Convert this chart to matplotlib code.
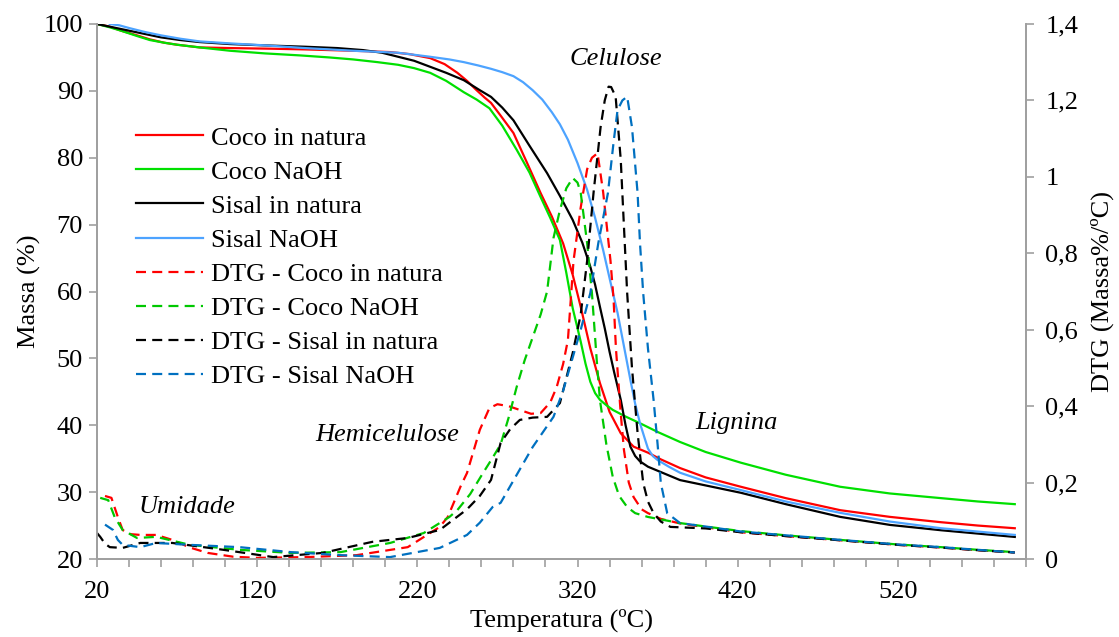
import numpy as np
import matplotlib
matplotlib.use("Agg")
import matplotlib.pyplot as plt
from matplotlib.ticker import FixedLocator, MultipleLocator, FuncFormatter

plt.rcParams['font.family'] = ['Liberation Serif', 'DejaVu Serif']
plt.rcParams['font.size'] = 19

# TG curves (massa %)
t_coco = [20, 28, 35, 45, 53, 62, 70, 84, 103, 130, 150, 180, 203, 215, 228, 237, 245, 251, 257, 262,
          266, 272, 280, 288, 297, 304, 311, 317, 322, 328, 334, 340, 347, 355, 364, 372, 384, 400, 422,
          450, 484, 515, 547, 570, 593]
m_coco = [100, 99.6, 99.0, 98.3, 97.7, 97.2, 96.9, 96.5, 96.4, 96.3, 96.2, 96.0, 95.8, 95.5, 94.9, 94.0,
          92.7, 91.5, 90.1, 89.0, 88.2, 86.3, 83.7, 79.5, 74.7, 71.2, 67.2, 62.5, 57.7, 51.5, 46.3, 42.0,
          38.8, 36.8, 35.9, 34.9, 33.6, 32.2, 30.8, 29.1, 27.3, 26.3, 25.5, 25.0, 24.6]

t_coco_naoh = [20, 28, 35, 45, 53, 62, 70, 84, 103, 125, 147, 165, 180, 195, 208, 218, 228, 238, 249,
               257, 265, 273, 282, 290, 297, 303, 309, 313, 317, 322, 325, 328, 331, 334, 338, 342, 350,
               359, 370, 384, 400, 422, 450, 484, 515, 547, 570, 593]
m_coco_naoh = [100, 99.5, 99.0, 98.2, 97.6, 97.2, 96.9, 96.5, 96.0, 95.6, 95.3, 95.0, 94.7, 94.3, 93.9,
               93.4, 92.7, 91.5, 89.8, 88.7, 87.4, 84.8, 81.2, 77.8, 74.1, 71.0, 67.7, 62.8, 57.5, 52.5,
               49.2, 46.5, 44.8, 43.8, 43.0, 42.3, 41.3, 40.3, 39.0, 37.5, 36.0, 34.4, 32.6, 30.8, 29.8,
               29.1, 28.6, 28.2]

t_sisal = [20, 30, 40, 50, 60, 72, 84, 103, 125, 150, 170, 186, 198, 208, 218, 228, 238, 249, 259, 266,
           273, 280, 290, 301, 309, 317, 323, 328, 331, 334, 337, 340, 343, 347, 350, 353, 356, 359, 364,
           370, 384, 400, 422, 450, 484, 515, 547, 570, 593]
m_sisal = [100, 99.5, 99.0, 98.5, 98.0, 97.6, 97.3, 97.0, 96.8, 96.6, 96.4, 96.1, 95.7, 95.1, 94.5, 93.6,
           92.7, 91.6, 90.1, 89.1, 87.5, 85.6, 81.8, 77.7, 74.3, 70.7, 67.3, 63.7, 61.0, 57.7, 54.5, 51.0,
           47.8, 43.8, 40.0, 36.8, 35.4, 34.6, 33.8, 33.2, 31.8, 31.0, 29.9, 28.2, 26.3, 25.1, 24.3, 23.8,
           23.3]

t_sisal_naoh = [28, 34, 40, 50, 60, 72, 84, 103, 125, 150, 180, 208, 228, 240, 249, 258, 266, 273, 280,
                286, 292, 298, 304, 309, 314, 320, 326, 331, 336, 340, 345, 349, 353, 356, 359, 362, 364,
                367, 370, 377, 384, 400, 422, 450, 484, 515, 547, 570, 593]
m_sisal_naoh = [100, 99.8, 99.4, 98.8, 98.3, 97.8, 97.4, 97.1, 96.8, 96.4, 96.0, 95.7, 95.1, 94.7, 94.3,
                93.8, 93.3, 92.8, 92.2, 91.3, 90.1, 88.7, 86.8, 85.0, 82.7, 79.2, 75.2, 71.0, 66.2, 62.0,
                56.8, 51.8, 46.8, 43.2, 40.3, 38.0, 36.5, 35.4, 34.8, 33.8, 32.9, 31.6, 30.3, 28.6, 26.9,
                25.6, 24.6, 24.1, 23.6]

# DTG curves (massa %/ºC)
td_coco = [25, 29, 33, 36, 41, 47, 57, 67, 78, 89, 105, 120, 151, 182, 214, 234, 239, 247, 251, 259,
           265, 270, 277, 284, 291, 297, 303, 307, 311, 314, 317.5, 322, 326, 329, 332.5, 336, 340.6, 342.5,
           344, 347, 349, 352, 355, 360, 364, 372, 384, 400, 422, 450, 484, 520, 547, 570, 593]
d_coco = [0.165, 0.16, 0.11, 0.076, 0.065, 0.063, 0.063, 0.05, 0.03, 0.016, 0.006, 0.003, 0.005, 0.01,
          0.031, 0.084, 0.11, 0.19, 0.225, 0.338, 0.395, 0.405, 0.40, 0.39, 0.38, 0.382, 0.41, 0.45, 0.51,
          0.573, 0.78, 0.92, 1.02, 1.05, 1.062, 0.96, 0.78, 0.68, 0.55, 0.38, 0.285, 0.2, 0.162, 0.13,
          0.12, 0.105, 0.093, 0.083, 0.07, 0.06, 0.049, 0.037, 0.03, 0.023, 0.017]

td_coco_naoh = [22, 27, 31, 36, 45, 57, 65, 78, 109, 141, 172, 203, 224, 240, 245, 253, 261, 267, 272,
                277, 282, 287, 292, 297, 301, 305, 309, 313, 317, 320, 322, 326, 329, 332, 334, 338, 342,
                346, 351, 356, 364, 384, 400, 422, 450, 484, 520, 547, 570, 593]
d_coco_naoh = [0.16, 0.154, 0.11, 0.076, 0.055, 0.058, 0.05, 0.037, 0.024, 0.016, 0.018, 0.042, 0.068,
               0.11, 0.128, 0.17, 0.225, 0.265, 0.30, 0.37, 0.45, 0.52, 0.58, 0.64, 0.70, 0.84, 0.913,
               0.97, 0.997, 0.985, 0.958, 0.827, 0.696, 0.52, 0.416, 0.3, 0.215, 0.165, 0.136, 0.12, 0.11,
               0.094, 0.085, 0.073, 0.062, 0.05, 0.038, 0.031, 0.024, 0.018]

td_sisal = [20, 22, 25, 28, 36, 47, 67, 99, 130, 161, 192, 214, 234, 251, 259, 266, 272, 278, 284, 292,
            301, 309, 317, 322, 326, 330, 334.4, 337, 339.4, 341, 343.8, 347, 349, 351, 354, 357.5, 361,
            364, 367.5, 372, 378, 400, 422, 450, 484, 520, 547, 570, 593]
d_sisal = [0.068, 0.058, 0.04, 0.031, 0.029, 0.042, 0.042, 0.024, 0.005, 0.016, 0.045, 0.055, 0.076,
           0.13, 0.165, 0.207, 0.304, 0.34, 0.364, 0.37, 0.372, 0.408, 0.539, 0.64, 0.78, 0.958, 1.13,
           1.2, 1.236, 1.235, 1.21, 1.044, 0.869, 0.696, 0.5, 0.33, 0.199, 0.15, 0.12, 0.098, 0.084, 0.08,
           0.07, 0.06, 0.049, 0.037, 0.03, 0.023, 0.017]

td_sisal_naoh = [25, 30, 33, 36, 47, 57, 78, 109, 141, 172, 203, 234, 251, 259, 267, 272, 282, 292, 305,
                 311, 316, 322, 328, 333, 339, 342.5, 345, 348, 351, 354, 357.5, 359, 361, 364, 367.5, 370,
                 372, 376, 384, 400, 422, 450, 484, 520, 547, 570, 593]
d_sisal_naoh = [0.09, 0.076, 0.05, 0.037, 0.031, 0.042, 0.037, 0.031, 0.018, 0.01, 0.005, 0.029, 0.063,
                0.095, 0.136, 0.147, 0.22, 0.293, 0.372, 0.44, 0.513, 0.6, 0.696, 0.827, 0.958, 1.09, 1.175,
                1.2, 1.21, 1.13, 0.958, 0.827, 0.696, 0.55, 0.416, 0.3, 0.199, 0.12, 0.094, 0.085, 0.072,
                0.062, 0.05, 0.038, 0.031, 0.024, 0.017]

tg_series = [
    ("Coco in natura", t_coco, m_coco, "#ff0000"),
    ("Coco NaOH", t_coco_naoh, m_coco_naoh, "#00e000"),
    ("Sisal in natura", t_sisal, m_sisal, "#000000"),
    ("Sisal NaOH", t_sisal_naoh, m_sisal_naoh, "#4da3ff"),
]
dtg_series = [
    ("DTG - Coco in natura", td_coco, d_coco, "#ff0000"),
    ("DTG - Coco NaOH", td_coco_naoh, d_coco_naoh, "#00c800"),
    ("DTG - Sisal in natura", td_sisal, d_sisal, "#000000"),
    ("DTG - Sisal NaOH", td_sisal_naoh, d_sisal_naoh, "#0070c0"),
]

fig = plt.figure(figsize=(11.19, 6.37), dpi=100)
ax1 = fig.add_axes([97 / 1119, 1 - 559 / 637, 929 / 1119, 535 / 637])
ax2 = ax1.twinx()

handles = []
for label, x, y, c in tg_series:
    h, = ax1.plot(x, y, color=c, lw=1.6, label=label)
    handles.append(h)
for label, x, y, c in dtg_series:
    h, = ax2.plot(x, y, color=c, lw=1.6, dashes=(4.5, 2.8), label=label)
    handles.append(h)

ax1.set_xlim(20, 600)
ax1.set_ylim(20, 100)
ax2.set_ylim(0, 1.4)
ax1.xaxis.set_major_locator(FixedLocator(np.arange(20, 601, 100)))
ax1.xaxis.set_minor_locator(FixedLocator(np.arange(20, 601, 20)))
ax1.yaxis.set_major_locator(MultipleLocator(10))
ax2.yaxis.set_major_locator(MultipleLocator(0.2))
ax2.yaxis.set_major_formatter(FuncFormatter(lambda v, p: f"{v:.1f}".rstrip('0').rstrip('.').replace('.', ',')))

spine_c = "#a0a0a0"
for ax in (ax1, ax2):
    ax.spines['top'].set_visible(False)
    for s in ('left', 'right', 'bottom'):
        ax.spines[s].set_color(spine_c)
        ax.spines[s].set_linewidth(1.3)
    ax.tick_params(which='both', color=spine_c, width=1.2, length=6, labelsize=19)
ax1.tick_params(axis='x', pad=10)
ax1.tick_params(axis='y', pad=4)
ax2.tick_params(axis='y', pad=8)

ax1.set_xlabel("Temperatura (ºC)", fontsize=19, labelpad=4)
ax1.set_ylabel("Massa (%)", fontsize=19, labelpad=2)
ax2.set_ylabel("DTG (Massa%/ºC)", fontsize=19, labelpad=9)

ann = dict(fontsize=19, style='italic', ha='center', va='center')
ax1.text(344, 94.8, "Celulose", **ann)
ax1.text(201, 38.5, "Hemicelulose", **ann)
ax1.text(76, 27.8, "Umidade", **ann)
ax1.text(419, 40.3, "Lignina", **ann)

ax2.legend(handles=handles, loc='upper left', bbox_to_anchor=(0.042, 0.809), frameon=False,
           borderaxespad=0, borderpad=0, handlelength=2.55, handletextpad=0.3, labelspacing=0.4,
           fontsize=19)

fig.savefig("out.png", dpi=100)
